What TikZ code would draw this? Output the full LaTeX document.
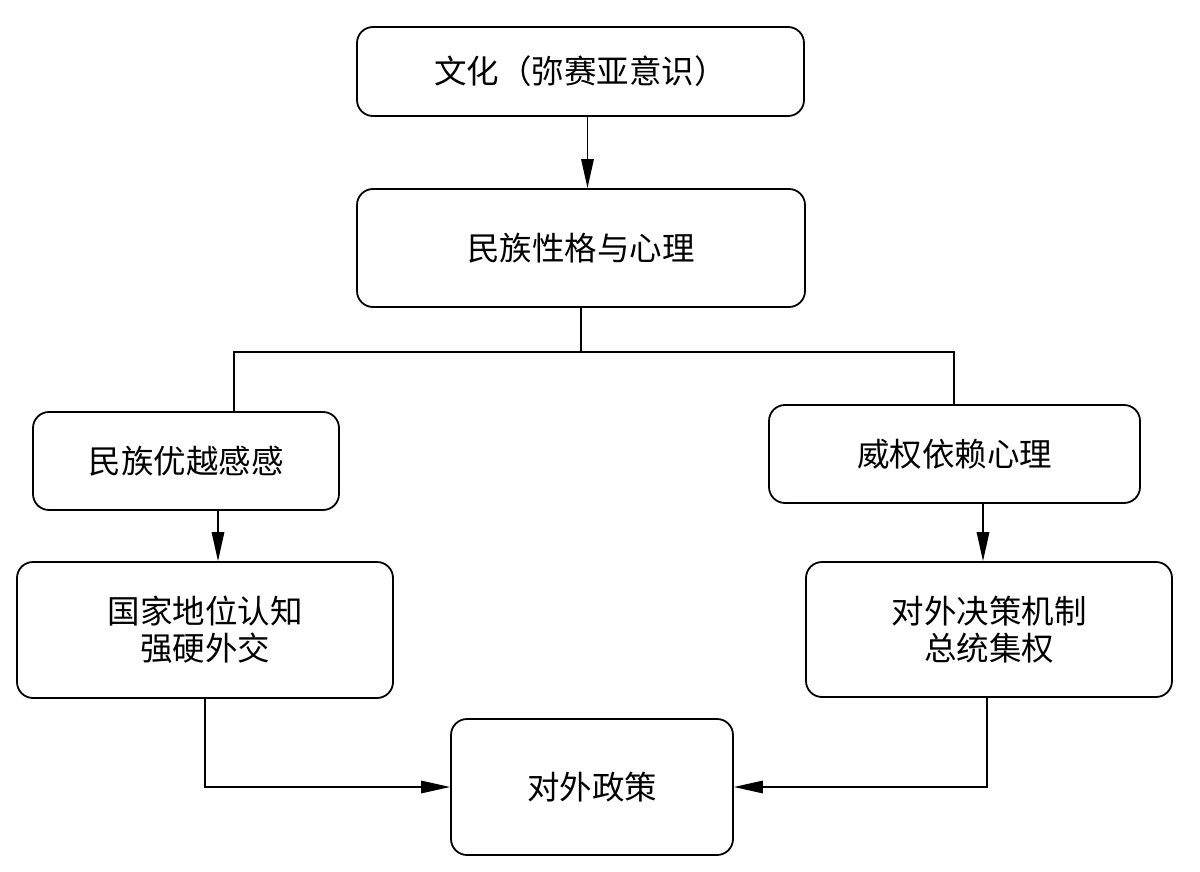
\documentclass[tikz,border=0pt]{standalone}
\usepackage{fontspec}
\newfontfamily\cjk{Noto Sans CJK SC}
\usetikzlibrary{arrows.meta}
\tikzset{
  box/.style={draw, line width=1.8pt, rounded corners=16pt, align=center,
    font=\cjk\fontsize{32.5}{37}\selectfont, inner sep=0pt},
  conn/.style={line width=1.5pt},
  arr/.style={conn, -{Triangle[length=29pt,width=12.5pt]}}
}
\begin{document}
\begin{tikzpicture}[x=1pt,y=-1pt]
\useasboundingbox (0,0) rectangle (1200,872);
\node[box, minimum width=447pt, minimum height=89pt] (b1) at (580.5,71.5) {\raisebox{-3pt}{文化（弥赛亚意识）}};
\node[box, minimum width=448pt, minimum height=118pt] (b2) at (581,248) {\raisebox{-3pt}{民族性格与心理}};
\node[box, minimum width=306pt, minimum height=98pt] (b3) at (186,461) {民族优越感感};
\node[box, minimum width=371pt, minimum height=98pt] (b4) at (954.5,454) {威权依赖心理};
\node[box, minimum width=376pt, minimum height=136pt] (b5) at (205,630) {国家地位认知\\强硬外交};
\node[box, minimum width=366pt, minimum height=135pt] (b6) at (989,629.5) {对外决策机制\\总统集权};
\node[box, minimum width=282pt, minimum height=136pt] (b7) at (592,787) {对外政策};
\coordinate (jm) at (581,352);
\coordinate (jl) at (234,352);
\coordinate (jr) at (954,352);
\draw[arr] ([xshift=7pt]b1.south) -- ([xshift=7pt]b1.south |- b2.north);
\draw[conn] (b2.south) -- (jm);
\draw[conn] (b3.north -| jl) -- (jl) -- (jr) -- (b4.north -| jr);
\draw[arr] ([xshift=32pt]b3.south) -- ([xshift=32pt]b3.south |- b5.north);
\draw[arr] ([xshift=28.5pt]b4.south) -- ([xshift=28.5pt]b4.south |- b6.north);
\draw[arr] (b5.south) |- (b7.west);
\draw[arr] ([xshift=-2pt]b6.south) |- (b7.east);
\end{tikzpicture}
\end{document}
